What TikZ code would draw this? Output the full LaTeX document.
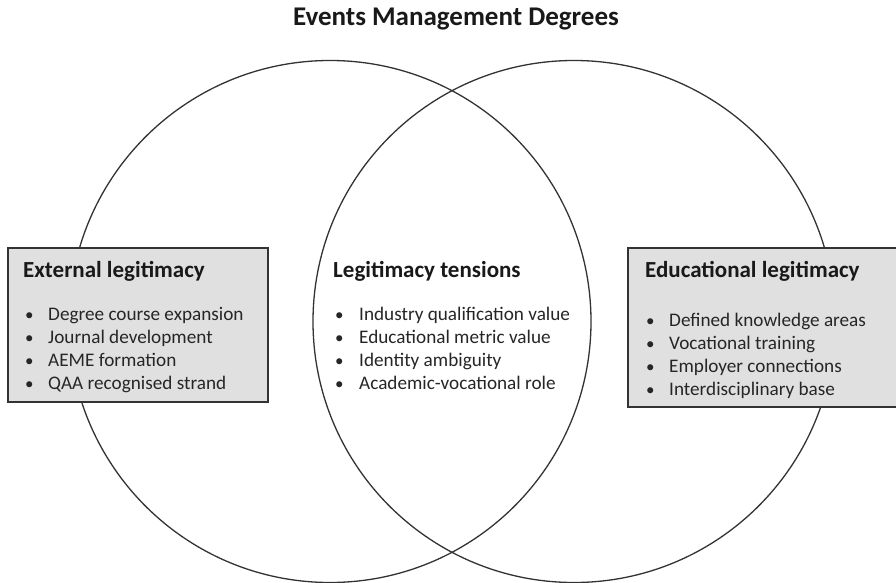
\documentclass[tikz,border=0pt]{standalone}
\usepackage{fontspec}
\setmainfont{Carlito}
\begin{document}
\begin{tikzpicture}[x=1pt,y=-1pt,
  ring/.style={draw=black!80,line width=1.3pt},
  panel/.style={draw=black!80,fill=black!12,line width=1.4pt},
  heading/.style={anchor=base west,inner sep=0pt,font=\fontsize{23}{27}\selectfont\bfseries,text=black!90},
  item/.style={anchor=base west,inner sep=0pt,font=\fontsize{19.2}{23}\selectfont,text=black!85},
  bul/.style={anchor=base west,inner sep=0pt,font=\fontsize{17}{23}\selectfont,text=black!85}]
\clip (0,0) rectangle (896,583);
\fill[white] (0,0) rectangle (896,583);
\node[anchor=base,inner sep=0pt,font=\fontsize{27}{31}\selectfont\bfseries,text=black!90] (title) at (456,26) {Events Management Degrees};
\draw[ring] (330,321.5) circle[radius=261];
\draw[ring] (574,321.5) circle[radius=261];
\draw[panel] (8,248) rectangle (268,402);
\draw[panel] (628,248) rectangle (905,407);
% left
\node[heading] (lt) at (23,277) {External legitimacy};
\foreach \t/\y/\n in {Degree course expansion/320/l1,Journal development/343/l2,AEME formation/366/l3,QAA recognised strand/389/l4}{
  \node[bul] (\n b) at (25,\y) {•};
  \node[item] (\n) at (48,\y) {\t};
}
% centre
\node[heading] (ct) at (333,277) {Legitimacy tensions};
\foreach \t/\y/\n in {Industry qualification value/320/c1,Educational metric value/343/c2,Identity ambiguity/366/c3,Academic-vocational role/389/c4}{
  \node[bul] (\n b) at (335,\y) {•};
  \node[item] (\n) at (359,\y) {\t};
}
% right
\node[heading] (rt) at (645,277) {Educational legitimacy};
\foreach \t/\y/\n in {Defined knowledge areas/326/r1,Vocational training/349/r2,Employer connections/372/r3,Interdisciplinary base/395/r4}{
  \node[bul] (\n b) at (646,\y) {•};
  \node[item] (\n) at (669,\y) {\t};
}
\end{tikzpicture}
\end{document}
